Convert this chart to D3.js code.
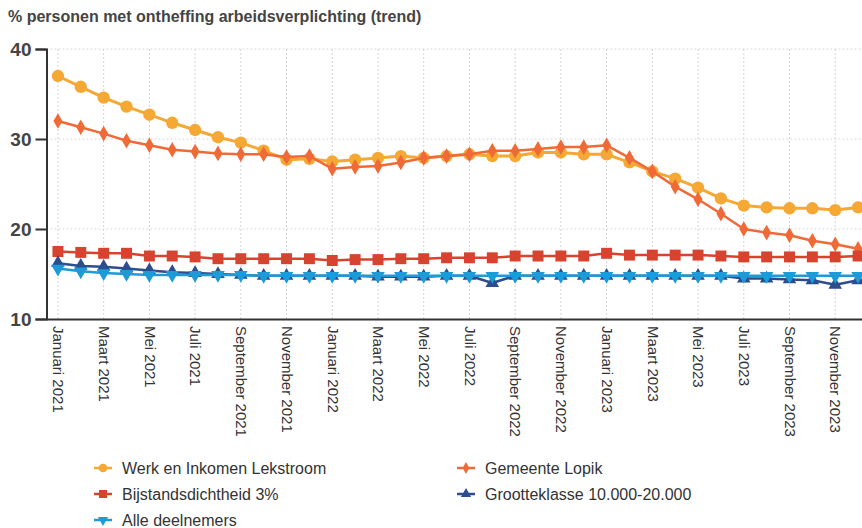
<!DOCTYPE html>
<html>
<head>
<meta charset="utf-8">
<script src="https://cdn.jsdelivr.net/npm/d3@7"></script>
<style>
  html, body { margin: 0; padding: 0; background: #fff; }
  svg { display: block; font-family: "Liberation Sans", Arial, sans-serif; }
</style>
</head>
<body>
<svg id="chart" width="862" height="528"></svg>
<script>
const categories = [
  "Januari 2021","Februari 2021","Maart 2021","April 2021","Mei 2021","Juni 2021",
  "Juli 2021","Augustus 2021","September 2021","Oktober 2021","November 2021","December 2021",
  "Januari 2022","Februari 2022","Maart 2022","April 2022","Mei 2022","Juni 2022",
  "Juli 2022","Augustus 2022","September 2022","Oktober 2022","November 2022","December 2022",
  "Januari 2023","Februari 2023","Maart 2023","April 2023","Mei 2023","Juni 2023",
  "Juli 2023","Augustus 2023","September 2023","Oktober 2023","November 2023","December 2023"
];
const tickLabels = [
  "Januari 2021","Maart 2021","Mei 2021","Juli 2021","September 2021","November 2021",
  "Januari 2022","Maart 2022","Mei 2022","Juli 2022","September 2022","November 2022",
  "Januari 2023","Maart 2023","Mei 2023","Juli 2023","September 2023","November 2023"
];
const yTicks = [10, 20, 30, 40];

const werkEnInkomen = [
  37.0, 35.8, 34.6, 33.6, 32.7, 31.8, 31.0, 30.2, 29.6, 28.7, 27.7, 27.8,
  27.5, 27.7, 27.9, 28.1, 27.9, 28.1, 28.3, 28.1, 28.1, 28.5, 28.5, 28.3,
  28.3, 27.4, 26.4, 25.6, 24.6, 23.4, 22.6, 22.4, 22.3, 22.3, 22.1, 22.4
];
const gemeenteLopik = [
  32.0, 31.3, 30.6, 29.8, 29.3, 28.8, 28.6, 28.4, 28.3, 28.3, 28.0, 28.1,
  26.7, 26.9, 27.0, 27.4, 27.9, 28.1, 28.3, 28.7, 28.7, 28.9, 29.1, 29.1,
  29.3, 27.9, 26.4, 24.7, 23.3, 21.7, 20.0, 19.6, 19.3, 18.7, 18.3, 17.8
];
const bijstandsdichtheid = [
  17.5, 17.4, 17.3, 17.3, 17.0, 17.0, 16.9, 16.7, 16.7, 16.7, 16.7, 16.7,
  16.5, 16.6, 16.6, 16.7, 16.7, 16.8, 16.8, 16.8, 17.0, 17.0, 17.0, 17.0,
  17.3, 17.1, 17.1, 17.1, 17.1, 17.0, 16.9, 16.9, 16.9, 16.9, 16.9, 17.0
];
const grootteklasse = [
  16.2, 15.9, 15.8, 15.6, 15.4, 15.2, 15.1, 15.0, 14.9, 14.8, 14.8, 14.8,
  14.8, 14.8, 14.7, 14.7, 14.7, 14.8, 14.8, 14.0, 14.8, 14.8, 14.8, 14.8,
  14.8, 14.8, 14.8, 14.8, 14.8, 14.8, 14.5, 14.5, 14.4, 14.3, 13.8, 14.3
];
const alleDeelnemers = [
  15.6, 15.3, 15.1, 15.0, 14.9, 14.9, 14.9, 14.9, 14.9, 14.8, 14.8, 14.8,
  14.8, 14.8, 14.8, 14.8, 14.8, 14.8, 14.8, 14.8, 14.8, 14.8, 14.8, 14.8,
  14.8, 14.8, 14.8, 14.8, 14.8, 14.8, 14.8, 14.8, 14.8, 14.8, 14.8, 14.8
];

const seriesNames = ["Werk en Inkomen Lekstroom", "Gemeente Lopik", "Bijstandsdichtheid 3%",
                     "Grootteklasse 10.000-20.000", "Alle deelnemers"];
const seriesValues = [werkEnInkomen, gemeenteLopik, bijstandsdichtheid, grootteklasse, alleDeelnemers];

(function () {
const styles = [
  { color: "#f5a833", symbol: d3.symbolCircle, size: 120, lsize: 60, width: 3 },
  { color: "#f06a38", symbol: d3.symbolDiamond, size: 70, lsize: 40, width: 2.5 },
  { color: "#d8432f", symbol: d3.symbolSquare, size: 120, lsize: 64, width: 2.5 },
  { color: "#2c4d8e", symbol: d3.symbolTriangle, size: 80, lsize: 45, width: 2.5 },
  { color: "#1e9ad6", symbol: d3.symbolTriangle, rotate: 180, size: 80, lsize: 45, width: 2.5 }
];

const svg = d3.select("#chart");
const mLeft = 46.5, mTop = 49, mBottom = 319, mRight = 869.5;

const x = d3.scalePoint().domain(categories).range([mLeft, mRight]).padding(0.5);
const y = d3.scaleLinear().domain([10, 40]).range([mBottom, mTop]);

// Title
svg.append("text")
  .attr("x", 8).attr("y", 22)
  .attr("font-size", 16).attr("font-weight", "bold").attr("fill", "#444")
  .text("% personen met ontheffing arbeidsverplichting (trend)");

// Grid
const grid = svg.append("g");
grid.selectAll("line.h").data(yTicks.filter(d => d > 10)).join("line")
  .attr("x1", mLeft).attr("x2", 862)
  .attr("y1", d => y(d)).attr("y2", d => y(d))
  .attr("stroke", "#d9d9d9").attr("stroke-width", 1).attr("stroke-dasharray", "2,2");
grid.selectAll("line.v").data(tickLabels).join("line")
  .attr("x1", d => x(d)).attr("x2", d => x(d))
  .attr("y1", mTop).attr("y2", mBottom)
  .attr("stroke", "#d4d4d4").attr("stroke-width", 1).attr("stroke-dasharray", "2,2");

// Y axis
const yAxis = svg.append("g").attr("transform", `translate(${mLeft},0)`)
  .call(d3.axisLeft(y).tickValues(yTicks).tickSize(11).tickPadding(4));
yAxis.select(".domain").attr("stroke", "#333").attr("stroke-width", 2);
yAxis.selectAll(".tick line").attr("stroke", "#333").attr("stroke-width", 2);
yAxis.selectAll(".tick text").attr("font-size", 19).attr("font-weight", "bold")
  .attr("fill", "#444").attr("font-family", "Liberation Sans, Arial, sans-serif");

// X axis
const xAxis = svg.append("g").attr("transform", `translate(0,${mBottom})`)
  .call(d3.axisBottom(x).tickValues(tickLabels).tickSize(0).tickPadding(0));
xAxis.select(".domain").attr("stroke", "#333").attr("stroke-width", 2);
xAxis.selectAll(".tick text")
  .attr("font-size", 15).attr("fill", "#333")
  .attr("font-family", "Liberation Sans, Arial, sans-serif")
  .attr("text-anchor", "start")
  .attr("transform", "rotate(90)")
  .attr("x", 7).attr("y", 0).attr("dy", "0.35em");

// Series
seriesValues.forEach((vals, i) => {
  const st = styles[i];
  const g = svg.append("g");
  const line = d3.line().x((d, j) => x(categories[j])).y(d => y(d));
  g.append("path").datum(vals)
    .attr("d", line).attr("fill", "none")
    .attr("stroke", st.color).attr("stroke-width", st.width).attr("stroke-linejoin", "round");
  g.selectAll("path.m").data(vals).join("path")
    .attr("class", "m")
    .attr("d", d3.symbol().type(st.symbol).size(st.size))
    .attr("transform", (d, j) => `translate(${x(categories[j])},${y(d)})` + (st.rotate ? ` rotate(${st.rotate})` : ""))
    .attr("fill", st.color);
});

// Legend
const legendPos = [
  { x: 103, y: 468 }, { x: 466, y: 468 },
  { x: 103, y: 494 }, { x: 466, y: 494 },
  { x: 103, y: 520 }
];
seriesNames.forEach((name, i) => {
  const st = styles[i];
  const p = legendPos[i];
  const g = svg.append("g").attr("transform", `translate(${p.x},${p.y})`);
  g.append("line").attr("x1", -9).attr("x2", 9).attr("y1", 0).attr("y2", 0)
    .attr("stroke", st.color).attr("stroke-width", 2.5);
  g.append("path").attr("d", d3.symbol().type(st.symbol).size(st.lsize))
    .attr("transform", st.rotate ? `rotate(${st.rotate})` : null)
    .attr("fill", st.color);
  g.append("text").attr("x", 19).attr("y", 0).attr("dy", "0.35em")
    .attr("font-size", 16).attr("fill", "#333").text(name);
});
})();
</script>
</body>
</html>
